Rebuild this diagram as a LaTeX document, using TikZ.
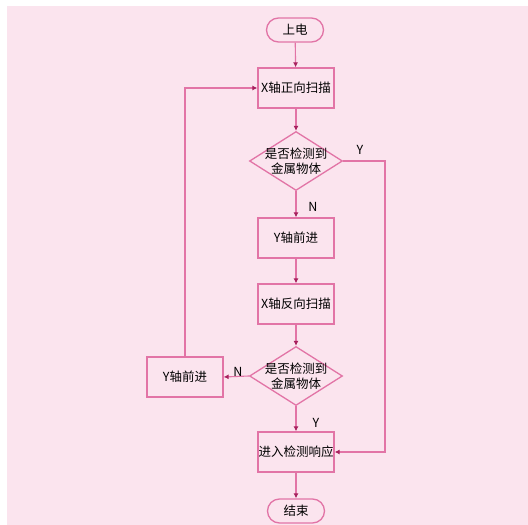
\documentclass[tikz,border=0pt]{standalone}
\usepackage{fontspec}
\setmainfont{Noto Sans CJK SC}
\usetikzlibrary{shapes.geometric,arrows.meta}
\definecolor{bgc}{HTML}{FBE4EE}
\definecolor{linec}{HTML}{E274A6}
\definecolor{tipc}{HTML}{A8205E}
\tikzset{
  base/.style={draw=linec, line width=1.3pt, fill=bgc, font=\fontsize{12.5}{15}\selectfont, text=black, inner sep=0pt},
  procbox/.style={base, rectangle, minimum width=76pt, minimum height=40pt},
  termbox/.style={base, rectangle, rounded corners=12pt, minimum width=57pt, minimum height=24pt},
  decision/.style={base, diamond, minimum width=93pt, minimum height=59pt},
  dtext/.style={font=\fontsize{12.5}{15}\selectfont, align=center, inner sep=0pt},
  conn/.style={draw=linec, line width=1.1pt, -{Latex[length=5pt,width=5pt,color=tipc]}},
  lbl/.style={font=\fontsize{12.5}{14}\selectfont, inner sep=0pt}
}
\begin{document}
\begin{tikzpicture}[x=1pt,y=-1pt]
\useasboundingbox (0,0) rectangle (528,525);
\fill[bgc] (7,6) rectangle (528,525);
\node[termbox] (start) at (295,30) {上电};
\node[procbox] (xfwd) at (296,88) {X轴正向扫描};
\node[decision] (d1) at (296,161) {};
\node[dtext] at (296,161) {是否检测到\\金属物体};
\node[procbox] (yfwd1) at (296,238) {Y轴前进};
\node[procbox] (xrev) at (296,304) {X轴反向扫描};
\node[decision] (d2) at (296,376) {};
\node[dtext] at (296,376) {是否检测到\\金属物体};
\node[procbox] (yfwd2) at (185,377) {Y轴前进};
\node[procbox] (resp) at (296,452) {进入检测响应};
\node[termbox] (stop) at (296,511) {结束};
\coordinate (r1) at (385,161);
\coordinate (r2) at (385,452);
\coordinate (l1) at (185,88);
\draw[conn] (start) -- (xfwd);
\draw[conn] (xfwd) -- (d1);
\draw[conn] (d1) -- (yfwd1);
\draw[conn] (yfwd1) -- (xrev);
\draw[conn] (xrev) -- (d2);
\draw[conn] (d1.east) -- (r1) -- (r2) -- (resp.east);
\draw[conn] (d2.west) -- (yfwd2.east);
\draw[conn] (d2) -- (resp);
\draw[conn] (yfwd2.north) -- (l1) -- (xfwd.west);
\draw[conn] (resp) -- (stop);
\node[lbl] at (360,150) {Y};
\node[lbl] at (313,207) {N};
\node[lbl] at (238,372) {N};
\node[lbl] at (316,423) {Y};
\end{tikzpicture}
\end{document}
